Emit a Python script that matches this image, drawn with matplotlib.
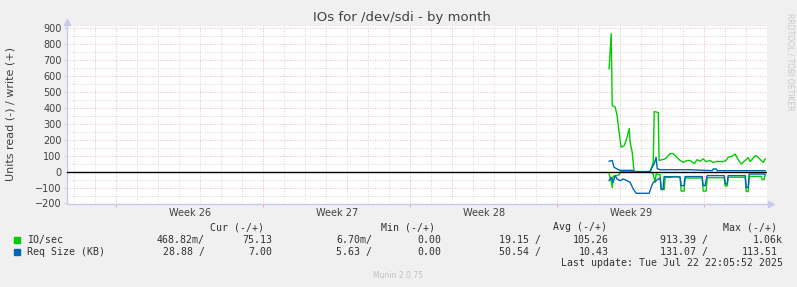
import matplotlib
matplotlib.use("Agg")
import matplotlib.pyplot as plt
import numpy as np
from matplotlib.ticker import MultipleLocator

# ---------------- data (time in days from left edge of the 33-day window) ----------------
io_write_t = [25.83, 25.93, 25.98, 26.12, 26.21, 26.31, 26.40, 26.55, 26.64, 26.79, 26.83, 26.93,
              27.02, 27.79, 27.93, 27.98, 28.17, 28.21, 28.50, 28.74, 28.88, 29.07, 29.21, 29.36,
              29.55, 29.69, 29.88, 30.02, 30.17, 30.31, 30.45, 30.64, 30.79, 30.98, 31.12, 31.26,
              31.40, 31.50, 31.64, 31.74, 31.83, 31.98, 32.12, 32.31, 32.45, 32.55, 32.79, 32.93,
              33.07, 33.17, 33.26]
io_write_v = [645, 866, 415, 405, 352, 247, 153, 163, 195, 270, 185, 121,
              0, 0, 58, 377, 371, 70, 80, 113, 113, 88, 70, 58,
              70, 70, 50, 75, 65, 80, 63, 70, 57, 65, 63, 63,
              70, 90, 95, 101, 111, 74, 48, 70, 88, 63, 101, 91,
              70, 58, 80]

io_read_t = [25.83, 25.93, 25.98, 26.02, 26.17, 26.31, 26.36, 27.79, 27.93, 28.02, 28.07, 28.26,
             28.31, 28.45, 28.50, 28.74, 28.98, 29.21, 29.26, 29.40, 29.45, 30.26, 30.31, 30.45,
             30.50, 31.31, 31.36, 31.45, 31.50, 32.31, 32.36, 32.45, 32.50, 33.07, 33.12, 33.21,
             33.26]
io_read_v = [15, 60, 100, 30, 25, 20, 0, 0, 15, 67, 15, 20,
             113, 113, 36, 36, 30, 36, 122, 122, 40, 40, 122, 122,
             38, 38, 90, 90, 35, 35, 125, 125, 30, 30, 50, 50,
             20]

req_write_t = [25.83, 25.98, 26.07, 26.26, 26.36, 26.98, 27.02, 27.74, 27.79, 27.98, 28.07, 28.12,
               28.26, 29.69, 30.74, 30.79, 30.93, 30.98, 33.26]
req_write_v = [65, 70, 27, 13, 8, 8, 0, 0, 6, 50, 90, 19,
               12, 12, 6, 17, 17, 6, 6]

req_read_t = [25.83, 25.93, 26.02, 26.12, 26.21, 26.36, 26.50, 26.69, 26.83, 26.98, 27.12, 27.74,
              27.83, 27.93, 28.07, 28.17, 28.26, 28.31, 28.40, 28.45, 29.21, 29.26, 29.40, 29.45,
              30.26, 30.31, 30.40, 30.50, 31.31, 31.36, 31.45, 31.50, 32.31, 32.36, 32.45, 32.50,
              33.26]
req_read_v = [57, 36, 67, 25, 46, 57, 46, 57, 67, 109, 136, 136,
              99, 67, 57, 46, 40, 110, 110, 31, 33, 88, 88, 31,
              31, 88, 88, 25, 25, 77, 77, 25, 25, 99, 99, 15,
              15]

week_labels = ["Week 26", "Week 27", "Week 28", "Week 29"]
week_starts = [2.36, 9.36, 16.36, 23.36, 30.36]

legend_rows = [
    ("IO/sec", "#00CC00", ["468.82m/", "75.13", "6.70m/", "0.00", "19.15 /", "105.26", "913.39 /", "1.06k"]),
    ("Req Size (KB)", "#0066B3", ["28.88 /", "7.00", "5.63 /", "0.00", "50.54 /", "10.43", "131.07 /", "113.51"]),
]
legend_headers = ["Cur (-/+)", "Min (-/+)", "Avg (-/+)", "Max (-/+)"]
last_update = "Last update: Tue Jul 22 22:05:52 2025"

# ---------------- figure ----------------
W, H = 797, 287
fig = plt.figure(figsize=(W / 100, H / 100), dpi=100, facecolor="#F0F0F0")
x0, x1, y0, y1 = 66.5, 766.7, 26.0, 203.5
ax = fig.add_axes([x0 / W, 1 - y1 / H, (x1 - x0) / W, (y1 - y0) / H])
ax.set_facecolor("white")
ax.set_xlim(0, 700 / 21)
ax.set_ylim(-200, 914)

# grid
for d in np.arange(0.36, 33.4, 1.0):
    if not any(abs(d - w) < 0.01 for w in week_starts):
        ax.axvline(d, color="#C8C8C8", lw=0.6, ls=(0, (1, 2)), zorder=0)
for w in week_starts:
    ax.axvline(w, color="#F0A0A0", lw=0.6, ls=(0, (1, 2)), zorder=0.5)
for v in range(-150, 914, 100):
    ax.axhline(v, color="#C8C8C8", lw=0.6, ls=(0, (1, 2)), zorder=0)
for v in range(-100, 914, 100):
    ax.axhline(v, color="#F0A0A0", lw=0.6, ls=(0, (1, 2)), zorder=0.5)

# data
green, blue = "#00CC00", "#0066B3"
ax.plot(io_write_t, io_write_v, color=green, lw=1.0, zorder=3)
ax.plot(io_read_t, -np.array(io_read_v), color=green, lw=1.0, zorder=3)
ax.plot(req_write_t, req_write_v, color=blue, lw=1.0, zorder=4)
ax.plot(req_read_t, -np.array(req_read_v), color=blue, lw=1.0, zorder=4)
ax.axhline(0, color="black", lw=1.0, zorder=5)

# axes styling
for s in ["top", "right"]:
    ax.spines[s].set_visible(False)
for s in ["left", "bottom"]:
    ax.spines[s].set_color("#C8C8F0")
    ax.spines[s].set_linewidth(1.0)
ax.plot([0], [1.02], marker="^", color="#C8C8F0", ms=5, transform=ax.transAxes, clip_on=False)
ax.plot([1.006], [0], marker=">", color="#C8C8F0", ms=5, transform=ax.transAxes, clip_on=False)

ax.set_yticks(range(-200, 901, 100))
ax.tick_params(axis="y", length=2, width=0.6, color="#C8C8F0", labelsize=7, labelcolor="#404040", pad=1.5)
ax.set_xticks(week_starts)
ax.set_xticklabels([])
ax.tick_params(axis="x", length=2, width=0.6, color="#F0A0A0")
for i, lab in enumerate(week_labels):
    ax.text((week_starts[i] + week_starts[i + 1]) / 2, -0.025, lab, transform=ax.get_xaxis_transform(),
            ha="center", va="top", fontsize=7, color="#404040")

fig.text(11 / W, 1 - 114 / H, "Units read (-) / write (+)", rotation=90, ha="center", va="center",
         fontsize=8, color="#404040")
fig.text(402 / W, 1 - 18 / H, "IOs for /dev/sdi - by month", ha="center", va="center",
         fontsize=9.5, color="#404040")

# legend (monospace)
mono = "DejaVu Sans Mono"
fs = 7.1
tc = "#303030"
def ftext(px, py, s, ha="left", **kw):
    fig.text(px / W, 1 - py / H, s, ha=ha, va="center", family=mono, fontsize=fs, color=tc, **kw)

for hx, h in zip([210, 381, 553, 723], legend_headers):
    ftext(hx, 227.5, h)
right_cols = [205, 272, 372, 441, 541, 609, 708, 783]
for r, (name, col, vals) in enumerate(legend_rows):
    py = 240 + 12 * r
    fig.patches.append(plt.Rectangle((13.5 / W, 1 - (py + 3) / H), 6 / W, 6 / H,
                                     transform=fig.transFigure, color=col))
    ftext(26.7, py, name)
    for rx, v in zip(right_cols, vals):
        if v == "113.51":
            rx = 778
        ftext(rx, py, v, ha="right")
ftext(783, 263.5, last_update, ha="right")

fig.text(398 / W, 1 - 276 / H, "Munin 2.0.75", ha="center", va="center", fontsize=5.5, color="#C0C0C0")
fig.text(790 / W, 1 - 62 / H, "RRDTOOL / TOBI OETIKER", ha="center", va="center", rotation=270,
         fontsize=5.5, color="#C8C8C8")

fig.savefig("out.png", dpi=100, facecolor=fig.get_facecolor())
